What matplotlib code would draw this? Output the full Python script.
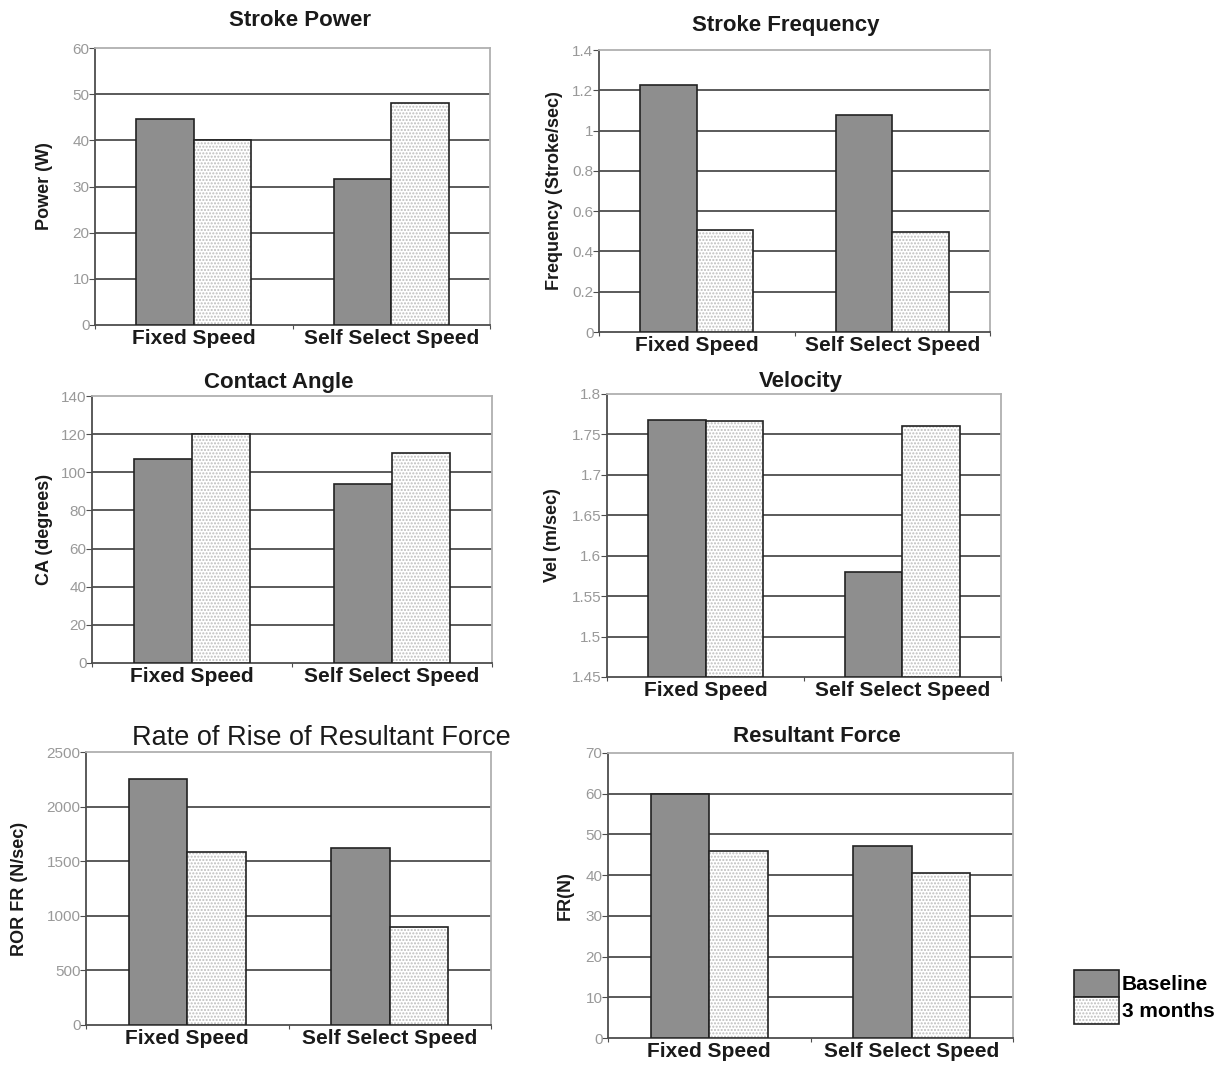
import numpy as np
import matplotlib.pyplot as plt
from matplotlib.patches import Patch

plt.rcParams["font.family"] = ["Liberation Sans", "DejaVu Sans"]
plt.rcParams["hatch.linewidth"] = 1.0

W, H = 1227, 1067

categories = ["Fixed Speed", "Self Select Speed"]
series = ["Baseline", "3 months"]

power_base = [44.7, 31.7]
power_3m = [40.0, 48.0]

freq_base = [1.225, 1.075]
freq_3m = [0.505, 0.495]

ca_base = [107, 94]
ca_3m = [120, 110]

vel_base = [1.768, 1.58]
vel_3m = [1.766, 1.76]

ror_base = [2250, 1620]
ror_3m = [1580, 900]

fr_base = [60.0, 47.2]
fr_3m = [46.0, 40.5]

# panel: title, ylabel, base, 3m, ylim, step, box px (l, t, r, b), ylabel centre x px,
#        title centre x px, title size, title weight, title pad
panels = [
    ("Stroke Power", "Power (W)", power_base, power_3m, (0, 60), 10,
     (95, 48, 490, 325), 45, 300, 16, "bold", 16),
    ("Stroke Frequency", "Frequency (Stroke/sec)", freq_base, freq_3m, (0, 1.4), 0.2,
     (599, 50, 990, 332), 555, 786, 16, "bold", 14),
    ("Contact Angle", "CA (degrees)", ca_base, ca_3m, (0, 140), 20,
     (92, 396, 492, 663), 45, 279, 16, "bold", 6),
    ("Velocity", "Vel (m/sec)", vel_base, vel_3m, (1.45, 1.8), 0.05,
     (607, 394, 1001, 677), 553, 801, 16, "bold", 5),
    ("Rate of Rise of Resultant Force", "ROR FR (N/sec)", ror_base, ror_3m, (0, 2500), 500,
     (86, 752, 491, 1025), 20, 321, 19.5, "normal", 5),
    ("Resultant Force", "FR(N)", fr_base, fr_3m, (0, 70), 10,
     (608, 753, 1013, 1038), 566, 817, 16, "bold", 8),
]

DARK = "#8e8e8e"
DOT = "#bdbdbd"
GRID = "#4d4d4d"
LIGHT = "#b0b0b0"
TICKTXT = "#999999"
bw = 0.29

fig = plt.figure(figsize=(W / 100, H / 100), dpi=100)

for title, ylabel, base, m3, ylim, step, box, ylx, tx, tsize, tweight, tpad in panels:
    l, t, r, b = box
    ax = fig.add_axes([l / W, 1 - b / H, (r - l) / W, (b - t) / H])
    x = np.arange(len(categories)) + 0.5
    lo, hi = ylim
    ticks = np.arange(lo, hi + step / 2, step)
    for tv in ticks[1:-1]:
        ax.axhline(tv, color=GRID, lw=1.3, zorder=1)
    ax.bar(x - bw / 2, np.array(base) - lo, bw, bottom=lo, color=DARK,
           edgecolor="#222222", lw=1.2, zorder=3)
    ax.bar(x + bw / 2, np.array(m3) - lo, bw, bottom=lo, color="white",
           edgecolor=DOT, hatch=".....", lw=0, zorder=3)
    ax.bar(x + bw / 2, np.array(m3) - lo, bw, bottom=lo, fill=False,
           edgecolor="#222222", lw=1.2, zorder=4)
    ax.set_xlim(0, len(categories))
    ax.set_ylim(lo, hi)
    ax.set_yticks(ticks)
    ax.set_yticklabels(["{:g}".format(round(v, 3)) for v in ticks], color=TICKTXT, fontsize=11)
    ax.set_xticks([0, 1, 2])
    ax.set_xticklabels([])
    ax.set_xticks(x, minor=True)
    ax.set_xticklabels(categories, minor=True, fontsize=15, fontweight="bold", color="#1a1a1a")
    ax.tick_params(axis="x", which="minor", length=0, pad=3)
    ax.tick_params(axis="x", which="major", length=3, color=GRID)
    ax.tick_params(axis="y", length=4, color=GRID, pad=0)
    ax.set_ylabel(ylabel, fontsize=13, fontweight="bold", color="#1a1a1a")
    # label anchor is its right edge once rotated; shift by half the text height
    ax.yaxis.set_label_coords((ylx + 8 - l) / (r - l), 0.5)
    ax.set_title(title, fontsize=tsize, fontweight=tweight, pad=tpad, color="#1a1a1a",
                 x=(tx - l) / (r - l))
    for side in ("left", "bottom"):
        ax.spines[side].set_color(GRID)
        ax.spines[side].set_linewidth(1.3)
    for side in ("top", "right"):
        ax.spines[side].set_color(LIGHT)
        ax.spines[side].set_linewidth(1.3)

handles = [
    Patch(facecolor=DARK, edgecolor="#222222", lw=1.2),
    (Patch(facecolor="white", edgecolor=DOT, hatch=".....", lw=0),
     Patch(fill=False, edgecolor="#222222", lw=1.2)),
]
fig.legend(handles, series, loc="upper left", bbox_to_anchor=(1074 / W, 1 - 970 / H),
           frameon=False, labelspacing=0.0, handlelength=2.15, handleheight=1.6,
           handletextpad=0.15, borderpad=0, borderaxespad=0,
           prop={"weight": "bold", "size": 15})

fig.savefig("out.png", dpi=100)
